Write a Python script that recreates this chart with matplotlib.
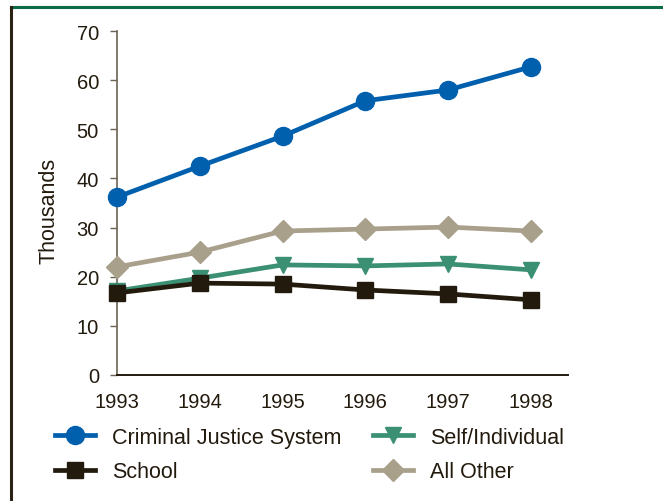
import matplotlib
matplotlib.use("Agg")
import matplotlib.pyplot as plt
from matplotlib.lines import Line2D

plt.rcParams['font.family'] = ['Liberation Sans', 'DejaVu Sans']

years = [1993, 1994, 1995, 1996, 1997, 1998]
criminal_justice = [36.2, 42.5, 48.6, 55.8, 58.0, 62.7]
self_individual = [17.1, 19.7, 22.4, 22.2, 22.6, 21.4]
school = [16.7, 18.7, 18.5, 17.3, 16.5, 15.3]
all_other = [22.0, 25.0, 29.3, 29.7, 30.1, 29.3]
y_ticks = [0, 10, 20, 30, 40, 50, 60, 70]

fs_tick = 14.5
fs_leg = 15.5
fig = plt.figure(figsize=(6.63, 5.02), dpi=100)
ax = fig.add_axes([117/663, 1-376/502, (568-117)/663, (376-32)/502])

txt = '#231a0e'
lw = 3.4
ax.plot(years, criminal_justice, color='#0060ae', lw=lw, marker='o', ms=13,
        label='Criminal Justice System', clip_on=False, zorder=5)
ax.plot(years, all_other, color='#a9a08b', lw=lw, marker='D', ms=11,
        label='All Other', clip_on=False, zorder=3)
ax.plot(years, self_individual, color='#3b8f72', lw=lw, marker='v', ms=12,
        label='Self/Individual', clip_on=False, zorder=4)
ax.plot(years, school, color='#231a0e', lw=lw, marker='s', ms=11,
        label='School', clip_on=False, zorder=4.5)

ax.set_xlim(1993, 1998.45)
ax.set_ylim(0, 70)
ax.set_yticks(y_ticks)
ax.set_xticks(years)
ax.spines['top'].set_visible(False)
ax.spines['right'].set_visible(False)
ax.spines['left'].set_color('#6b6354')
ax.spines['bottom'].set_color('#231a0e')
ax.spines['left'].set_linewidth(1.2)
ax.spines['bottom'].set_linewidth(1.4)
ax.tick_params(axis='y', length=5, width=1, color='#6b6354', labelsize=fs_tick,
               labelcolor=txt, pad=8)
ax.tick_params(axis='x', length=0, labelsize=fs_tick, labelcolor=txt, pad=12)
ax.set_ylabel('Thousands', fontsize=fs_leg, color=txt, labelpad=12)
ax.yaxis.label.set_y(0.48)

handles, labels = ax.get_legend_handles_labels()
hmap = dict(zip(labels, handles))
common = dict(loc='upper left', frameon=False, fontsize=fs_leg, handlelength=1.85,
              handletextpad=0.8, labelspacing=0.62, labelcolor=txt,
              borderpad=0, borderaxespad=0)
col1 = ['Criminal Justice System', 'School']
col2 = ['Self/Individual', 'All Other']
leg1 = fig.legend([hmap[k] for k in col1], col1,
                  bbox_to_anchor=(55/663, 1-428/502), **common)
leg2 = fig.legend([hmap[k] for k in col2], col2,
                  bbox_to_anchor=(373/663, 1-428/502), **common)

# decorative frame
fig.add_artist(Line2D([11/663, 1], [1-8/502, 1-8/502], color='#0b6b45', lw=2.2))
fig.add_artist(Line2D([11/663, 11/663], [0, 1-8/502], color='#2a2213', lw=2.2))

fig.savefig('out.png', dpi=100)
